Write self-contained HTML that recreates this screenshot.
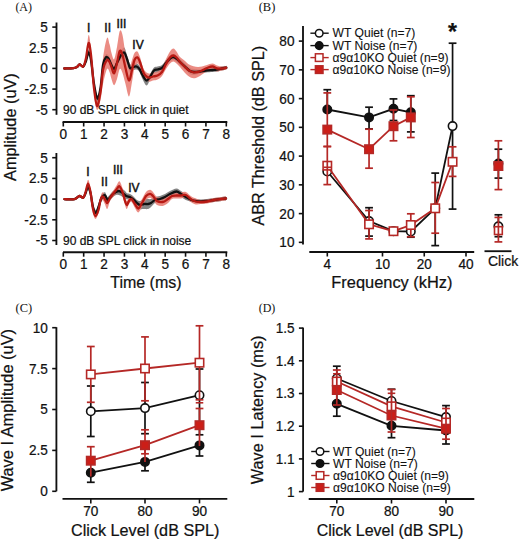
<!DOCTYPE html>
<html><head><meta charset="utf-8"><style>
html,body{margin:0;padding:0;background:#fff;}
svg{display:block;}
</style></head><body>
<svg width="520" height="542" viewBox="0 0 520 542">
<rect width="520" height="542" fill="#fff"/>
<text x="15.40" y="10.60" font-size="12.5" text-anchor="start" fill="#111"  font-family="Liberation Serif, serif" textLength="16.6" lengthAdjust="spacingAndGlyphs">(A)</text>
<line x1="56.50" y1="22.50" x2="56.50" y2="114.80" stroke="#111" stroke-width="1.85"/>
<line x1="52.30" y1="27.10" x2="56.50" y2="27.10" stroke="#111" stroke-width="1.6"/>
<text transform="translate(47.90,32.00) scale(1,1.07)" font-size="13.6" text-anchor="end" fill="#111" stroke="#111" stroke-width="0.22" font-family="Liberation Sans, sans-serif" >5</text>
<line x1="52.30" y1="47.80" x2="56.50" y2="47.80" stroke="#111" stroke-width="1.6"/>
<text transform="translate(47.90,52.70) scale(1,1.07)" font-size="13.6" text-anchor="end" fill="#111" stroke="#111" stroke-width="0.22" font-family="Liberation Sans, sans-serif" >2.5</text>
<line x1="52.30" y1="68.40" x2="56.50" y2="68.40" stroke="#111" stroke-width="1.6"/>
<text transform="translate(47.90,73.30) scale(1,1.07)" font-size="13.6" text-anchor="end" fill="#111" stroke="#111" stroke-width="0.22" font-family="Liberation Sans, sans-serif" >0</text>
<line x1="52.30" y1="89.10" x2="56.50" y2="89.10" stroke="#111" stroke-width="1.6"/>
<text transform="translate(47.90,94.00) scale(1,1.07)" font-size="13.6" text-anchor="end" fill="#111" stroke="#111" stroke-width="0.22" font-family="Liberation Sans, sans-serif" >-2.5</text>
<line x1="52.30" y1="109.70" x2="56.50" y2="109.70" stroke="#111" stroke-width="1.6"/>
<text transform="translate(47.90,114.60) scale(1,1.07)" font-size="13.6" text-anchor="end" fill="#111" stroke="#111" stroke-width="0.22" font-family="Liberation Sans, sans-serif" >-5</text>
<line x1="62.60" y1="122.00" x2="227.30" y2="122.00" stroke="#111" stroke-width="1.85"/>
<line x1="63.30" y1="122.00" x2="63.30" y2="126.50" stroke="#111" stroke-width="1.6"/>
<text transform="translate(63.30,138.90) scale(1,1.07)" font-size="13.6" text-anchor="middle" fill="#111" stroke="#111" stroke-width="0.22" font-family="Liberation Sans, sans-serif" >0</text>
<line x1="83.67" y1="122.00" x2="83.67" y2="126.50" stroke="#111" stroke-width="1.6"/>
<text transform="translate(83.67,138.90) scale(1,1.07)" font-size="13.6" text-anchor="middle" fill="#111" stroke="#111" stroke-width="0.22" font-family="Liberation Sans, sans-serif" >1</text>
<line x1="104.05" y1="122.00" x2="104.05" y2="126.50" stroke="#111" stroke-width="1.6"/>
<text transform="translate(104.05,138.90) scale(1,1.07)" font-size="13.6" text-anchor="middle" fill="#111" stroke="#111" stroke-width="0.22" font-family="Liberation Sans, sans-serif" >2</text>
<line x1="124.42" y1="122.00" x2="124.42" y2="126.50" stroke="#111" stroke-width="1.6"/>
<text transform="translate(124.42,138.90) scale(1,1.07)" font-size="13.6" text-anchor="middle" fill="#111" stroke="#111" stroke-width="0.22" font-family="Liberation Sans, sans-serif" >3</text>
<line x1="144.80" y1="122.00" x2="144.80" y2="126.50" stroke="#111" stroke-width="1.6"/>
<text transform="translate(144.80,138.90) scale(1,1.07)" font-size="13.6" text-anchor="middle" fill="#111" stroke="#111" stroke-width="0.22" font-family="Liberation Sans, sans-serif" >4</text>
<line x1="165.18" y1="122.00" x2="165.18" y2="126.50" stroke="#111" stroke-width="1.6"/>
<text transform="translate(165.18,138.90) scale(1,1.07)" font-size="13.6" text-anchor="middle" fill="#111" stroke="#111" stroke-width="0.22" font-family="Liberation Sans, sans-serif" >5</text>
<line x1="185.55" y1="122.00" x2="185.55" y2="126.50" stroke="#111" stroke-width="1.6"/>
<text transform="translate(185.55,138.90) scale(1,1.07)" font-size="13.6" text-anchor="middle" fill="#111" stroke="#111" stroke-width="0.22" font-family="Liberation Sans, sans-serif" >6</text>
<line x1="205.93" y1="122.00" x2="205.93" y2="126.50" stroke="#111" stroke-width="1.6"/>
<text transform="translate(205.93,138.90) scale(1,1.07)" font-size="13.6" text-anchor="middle" fill="#111" stroke="#111" stroke-width="0.22" font-family="Liberation Sans, sans-serif" >7</text>
<line x1="226.30" y1="122.00" x2="226.30" y2="126.50" stroke="#111" stroke-width="1.6"/>
<text transform="translate(226.30,138.90) scale(1,1.07)" font-size="13.6" text-anchor="middle" fill="#111" stroke="#111" stroke-width="0.22" font-family="Liberation Sans, sans-serif" >8</text>
<line x1="56.40" y1="153.00" x2="56.40" y2="245.00" stroke="#111" stroke-width="1.85"/>
<line x1="52.20" y1="157.70" x2="56.40" y2="157.70" stroke="#111" stroke-width="1.6"/>
<text transform="translate(47.80,162.60) scale(1,1.07)" font-size="13.6" text-anchor="end" fill="#111" stroke="#111" stroke-width="0.22" font-family="Liberation Sans, sans-serif" >5</text>
<line x1="52.20" y1="178.40" x2="56.40" y2="178.40" stroke="#111" stroke-width="1.6"/>
<text transform="translate(47.80,183.30) scale(1,1.07)" font-size="13.6" text-anchor="end" fill="#111" stroke="#111" stroke-width="0.22" font-family="Liberation Sans, sans-serif" >2.5</text>
<line x1="52.20" y1="199.10" x2="56.40" y2="199.10" stroke="#111" stroke-width="1.6"/>
<text transform="translate(47.80,204.00) scale(1,1.07)" font-size="13.6" text-anchor="end" fill="#111" stroke="#111" stroke-width="0.22" font-family="Liberation Sans, sans-serif" >0</text>
<line x1="52.20" y1="219.80" x2="56.40" y2="219.80" stroke="#111" stroke-width="1.6"/>
<text transform="translate(47.80,224.70) scale(1,1.07)" font-size="13.6" text-anchor="end" fill="#111" stroke="#111" stroke-width="0.22" font-family="Liberation Sans, sans-serif" >-2.5</text>
<line x1="52.20" y1="240.50" x2="56.40" y2="240.50" stroke="#111" stroke-width="1.6"/>
<text transform="translate(47.80,245.40) scale(1,1.07)" font-size="13.6" text-anchor="end" fill="#111" stroke="#111" stroke-width="0.22" font-family="Liberation Sans, sans-serif" >-5</text>
<line x1="63.00" y1="252.20" x2="227.30" y2="252.20" stroke="#111" stroke-width="1.85"/>
<line x1="63.30" y1="252.20" x2="63.30" y2="256.70" stroke="#111" stroke-width="1.6"/>
<text transform="translate(63.30,269.10) scale(1,1.07)" font-size="13.6" text-anchor="middle" fill="#111" stroke="#111" stroke-width="0.22" font-family="Liberation Sans, sans-serif" >0</text>
<line x1="83.67" y1="252.20" x2="83.67" y2="256.70" stroke="#111" stroke-width="1.6"/>
<text transform="translate(83.67,269.10) scale(1,1.07)" font-size="13.6" text-anchor="middle" fill="#111" stroke="#111" stroke-width="0.22" font-family="Liberation Sans, sans-serif" >1</text>
<line x1="104.05" y1="252.20" x2="104.05" y2="256.70" stroke="#111" stroke-width="1.6"/>
<text transform="translate(104.05,269.10) scale(1,1.07)" font-size="13.6" text-anchor="middle" fill="#111" stroke="#111" stroke-width="0.22" font-family="Liberation Sans, sans-serif" >2</text>
<line x1="124.42" y1="252.20" x2="124.42" y2="256.70" stroke="#111" stroke-width="1.6"/>
<text transform="translate(124.42,269.10) scale(1,1.07)" font-size="13.6" text-anchor="middle" fill="#111" stroke="#111" stroke-width="0.22" font-family="Liberation Sans, sans-serif" >3</text>
<line x1="144.80" y1="252.20" x2="144.80" y2="256.70" stroke="#111" stroke-width="1.6"/>
<text transform="translate(144.80,269.10) scale(1,1.07)" font-size="13.6" text-anchor="middle" fill="#111" stroke="#111" stroke-width="0.22" font-family="Liberation Sans, sans-serif" >4</text>
<line x1="165.18" y1="252.20" x2="165.18" y2="256.70" stroke="#111" stroke-width="1.6"/>
<text transform="translate(165.18,269.10) scale(1,1.07)" font-size="13.6" text-anchor="middle" fill="#111" stroke="#111" stroke-width="0.22" font-family="Liberation Sans, sans-serif" >5</text>
<line x1="185.55" y1="252.20" x2="185.55" y2="256.70" stroke="#111" stroke-width="1.6"/>
<text transform="translate(185.55,269.10) scale(1,1.07)" font-size="13.6" text-anchor="middle" fill="#111" stroke="#111" stroke-width="0.22" font-family="Liberation Sans, sans-serif" >6</text>
<line x1="205.93" y1="252.20" x2="205.93" y2="256.70" stroke="#111" stroke-width="1.6"/>
<text transform="translate(205.93,269.10) scale(1,1.07)" font-size="13.6" text-anchor="middle" fill="#111" stroke="#111" stroke-width="0.22" font-family="Liberation Sans, sans-serif" >7</text>
<line x1="226.30" y1="252.20" x2="226.30" y2="256.70" stroke="#111" stroke-width="1.6"/>
<text transform="translate(226.30,269.10) scale(1,1.07)" font-size="13.6" text-anchor="middle" fill="#111" stroke="#111" stroke-width="0.22" font-family="Liberation Sans, sans-serif" >8</text>
<path d="M64.20,67.50 C65.72,67.45 71.17,67.45 73.30,67.20 C75.43,66.95 75.95,66.62 77.00,66.00 C78.05,65.38 78.55,63.58 79.60,63.50 C80.65,63.42 82.23,66.25 83.30,65.50 C84.37,64.75 85.12,61.68 86.00,59.00 C86.88,56.32 87.77,49.73 88.60,49.40 C89.43,49.07 90.10,51.73 91.00,57.00 C91.90,62.27 92.93,74.58 94.00,81.00 C95.07,87.42 96.32,94.83 97.40,95.50 C98.48,96.17 99.57,90.58 100.50,85.00 C101.43,79.42 102.12,67.08 103.00,62.00 C103.88,56.92 104.88,55.58 105.80,54.50 C106.72,53.42 107.63,54.42 108.50,55.50 C109.37,56.58 110.07,59.25 111.00,61.00 C111.93,62.75 113.10,66.17 114.10,66.00 C115.10,65.83 115.93,62.33 117.00,60.00 C118.07,57.67 119.30,54.08 120.50,52.00 C121.70,49.92 123.12,47.00 124.20,47.50 C125.28,48.00 126.03,52.25 127.00,55.00 C127.97,57.75 129.00,62.50 130.00,64.00 C131.00,65.50 131.92,64.08 133.00,64.00 C134.08,63.92 135.42,63.17 136.50,63.50 C137.58,63.83 138.50,64.58 139.50,66.00 C140.50,67.42 141.33,70.08 142.50,72.00 C143.67,73.92 145.25,77.17 146.50,77.50 C147.75,77.83 148.75,75.67 150.00,74.00 C151.25,72.33 152.75,68.75 154.00,67.50 C155.25,66.25 156.17,66.92 157.50,66.50 C158.83,66.08 160.58,66.08 162.00,65.00 C163.42,63.92 164.67,61.58 166.00,60.00 C167.33,58.42 168.77,56.50 170.00,55.50 C171.23,54.50 172.23,53.92 173.40,54.00 C174.57,54.08 175.73,55.00 177.00,56.00 C178.27,57.00 179.50,58.58 181.00,60.00 C182.50,61.42 184.50,63.17 186.00,64.50 C187.50,65.83 188.67,67.25 190.00,68.00 C191.33,68.75 192.33,68.75 194.00,69.00 C195.67,69.25 198.00,69.58 200.00,69.50 C202.00,69.42 203.92,68.75 206.00,68.50 C208.08,68.25 210.67,68.17 212.50,68.00 C214.33,67.83 215.42,67.75 217.00,67.50 C218.58,67.25 220.45,66.80 222.00,66.50 C223.55,66.20 225.58,65.83 226.30,65.70 L226.30,69.70 C225.58,69.83 223.55,70.20 222.00,70.50 C220.45,70.80 218.58,71.25 217.00,71.50 C215.42,71.75 214.33,71.83 212.50,72.00 C210.67,72.17 208.08,72.25 206.00,72.50 C203.92,72.75 202.00,73.08 200.00,73.50 C198.00,73.92 195.67,74.92 194.00,75.00 C192.33,75.08 191.33,74.75 190.00,74.00 C188.67,73.25 187.50,71.83 186.00,70.50 C184.50,69.17 182.50,67.42 181.00,66.00 C179.50,64.58 178.27,63.00 177.00,62.00 C175.73,61.00 174.57,60.08 173.40,60.00 C172.23,59.92 171.23,60.50 170.00,61.50 C168.77,62.50 167.33,64.42 166.00,66.00 C164.67,67.58 163.42,69.92 162.00,71.00 C160.58,72.08 158.83,72.08 157.50,72.50 C156.17,72.92 155.25,72.25 154.00,73.50 C152.75,74.75 151.25,78.00 150.00,80.00 C148.75,82.00 147.75,85.67 146.50,85.50 C145.25,85.33 143.67,81.25 142.50,79.00 C141.33,76.75 140.50,73.58 139.50,72.00 C138.50,70.42 137.58,69.83 136.50,69.50 C135.42,69.17 134.08,69.58 133.00,70.00 C131.92,70.42 131.00,73.17 130.00,72.00 C129.00,70.83 127.97,65.58 127.00,63.00 C126.03,60.42 125.28,57.00 124.20,56.50 C123.12,56.00 121.70,58.42 120.50,60.00 C119.30,61.58 118.07,64.00 117.00,66.00 C115.93,68.00 115.10,71.83 114.10,72.00 C113.10,72.17 111.93,68.75 111.00,67.00 C110.07,65.25 109.37,62.58 108.50,61.50 C107.63,60.42 106.72,59.42 105.80,60.50 C104.88,61.58 103.88,62.92 103.00,68.00 C102.12,73.08 101.43,85.42 100.50,91.00 C99.57,96.58 98.48,102.17 97.40,101.50 C96.32,100.83 95.07,93.42 94.00,87.00 C92.93,80.58 91.90,68.27 91.00,63.00 C90.10,57.73 89.43,55.40 88.60,55.40 C87.77,55.40 86.88,60.98 86.00,63.00 C85.12,65.02 84.37,67.08 83.30,67.50 C82.23,67.92 80.65,65.42 79.60,65.50 C78.55,65.58 78.05,67.38 77.00,68.00 C75.95,68.62 75.43,68.95 73.30,69.20 C71.17,69.45 65.72,69.45 64.20,69.50 Z" fill="#6e6e6e" fill-opacity="0.85" stroke="none"/>
<path d="M64.20,67.50 C65.72,67.45 71.17,67.45 73.30,67.20 C75.43,66.95 75.95,66.62 77.00,66.00 C78.05,65.38 78.55,63.58 79.60,63.50 C80.65,63.42 82.23,66.75 83.30,65.50 C84.37,64.25 85.12,61.08 86.00,56.00 C86.88,50.92 87.77,36.17 88.60,35.00 C89.43,33.83 90.10,41.17 91.00,49.00 C91.90,56.83 93.00,73.33 94.00,82.00 C95.00,90.67 95.92,100.33 97.00,101.00 C98.08,101.67 99.50,93.17 100.50,86.00 C101.50,78.83 101.92,66.00 103.00,58.00 C104.08,50.00 105.92,40.33 107.00,38.00 C108.08,35.67 108.75,41.50 109.50,44.00 C110.25,46.50 110.73,50.47 111.50,53.00 C112.27,55.53 113.18,60.20 114.10,59.20 C115.02,58.20 116.05,51.70 117.00,47.00 C117.95,42.30 118.88,33.00 119.80,31.00 C120.72,29.00 121.55,31.17 122.50,35.00 C123.45,38.83 124.42,48.42 125.50,54.00 C126.58,59.58 127.92,67.50 129.00,68.50 C130.08,69.50 131.08,62.58 132.00,60.00 C132.92,57.42 133.60,54.43 134.50,53.00 C135.40,51.57 136.48,50.73 137.40,51.40 C138.32,52.07 139.15,54.57 140.00,57.00 C140.85,59.43 141.67,63.67 142.50,66.00 C143.33,68.33 143.92,69.73 145.00,71.00 C146.08,72.27 147.67,73.35 149.00,73.60 C150.33,73.85 151.58,72.85 153.00,72.50 C154.42,72.15 156.00,72.25 157.50,71.50 C159.00,70.75 160.58,70.08 162.00,68.00 C163.42,65.92 164.67,61.75 166.00,59.00 C167.33,56.25 168.77,53.25 170.00,51.50 C171.23,49.75 172.32,48.50 173.40,48.50 C174.48,48.50 175.40,50.08 176.50,51.50 C177.60,52.92 178.58,55.42 180.00,57.00 C181.42,58.58 183.50,59.75 185.00,61.00 C186.50,62.25 187.58,63.62 189.00,64.50 C190.42,65.38 192.00,65.88 193.50,66.30 C195.00,66.72 196.58,66.97 198.00,67.00 C199.42,67.03 200.50,66.83 202.00,66.50 C203.50,66.17 205.25,65.50 207.00,65.00 C208.75,64.50 210.83,63.42 212.50,63.50 C214.17,63.58 215.42,65.00 217.00,65.50 C218.58,66.00 220.45,66.47 222.00,66.50 C223.55,66.53 225.58,65.83 226.30,65.70 L226.30,69.70 C225.58,69.83 223.55,70.20 222.00,70.50 C220.45,70.80 218.58,71.67 217.00,71.50 C215.42,71.33 214.17,69.58 212.50,69.50 C210.83,69.42 208.75,70.17 207.00,71.00 C205.25,71.83 203.50,73.50 202.00,74.50 C200.50,75.50 199.42,76.37 198.00,77.00 C196.58,77.63 195.00,78.38 193.50,78.30 C192.00,78.22 190.42,77.38 189.00,76.50 C187.58,75.62 186.50,74.58 185.00,73.00 C183.50,71.42 181.42,68.58 180.00,67.00 C178.58,65.42 177.60,64.42 176.50,63.50 C175.40,62.58 174.48,61.50 173.40,61.50 C172.32,61.50 171.23,62.25 170.00,63.50 C168.77,64.75 167.33,66.92 166.00,69.00 C164.67,71.08 163.42,74.25 162.00,76.00 C160.58,77.75 159.00,78.75 157.50,79.50 C156.00,80.25 154.42,80.15 153.00,80.50 C151.58,80.85 150.33,81.85 149.00,81.60 C147.67,81.35 146.08,80.27 145.00,79.00 C143.92,77.73 143.33,76.00 142.50,74.00 C141.67,72.00 140.85,68.77 140.00,67.00 C139.15,65.23 138.32,63.23 137.40,63.40 C136.48,63.57 135.40,64.90 134.50,68.00 C133.60,71.10 132.92,77.25 132.00,82.00 C131.08,86.75 130.08,96.17 129.00,96.50 C127.92,96.83 126.58,87.92 125.50,84.00 C124.42,80.08 123.45,75.50 122.50,73.00 C121.55,70.50 120.72,68.00 119.80,69.00 C118.88,70.00 117.95,76.30 117.00,79.00 C116.05,81.70 115.02,85.20 114.10,85.20 C113.18,85.20 112.27,81.20 111.50,79.00 C110.73,76.80 110.25,73.67 109.50,72.00 C108.75,70.33 108.08,67.00 107.00,69.00 C105.92,71.00 104.08,78.83 103.00,84.00 C101.92,89.17 101.50,95.67 100.50,100.00 C99.50,104.33 98.08,111.00 97.00,110.00 C95.92,109.00 95.00,102.17 94.00,94.00 C93.00,85.83 91.90,68.67 91.00,61.00 C90.10,53.33 89.43,48.17 88.60,48.00 C87.77,47.83 86.88,56.75 86.00,60.00 C85.12,63.25 84.37,66.58 83.30,67.50 C82.23,68.42 80.65,65.42 79.60,65.50 C78.55,65.58 78.05,67.38 77.00,68.00 C75.95,68.62 75.43,68.95 73.30,69.20 C71.17,69.45 65.72,69.45 64.20,69.50 Z" fill="#e8786e" fill-opacity="0.85" stroke="none"/>
<path d="M64.20,68.50 C65.72,68.45 71.17,68.45 73.30,68.20 C75.43,67.95 75.95,67.62 77.00,67.00 C78.05,66.38 78.55,64.58 79.60,64.50 C80.65,64.42 82.23,67.08 83.30,66.50 C84.37,65.92 85.12,63.35 86.00,61.00 C86.88,58.65 87.77,52.57 88.60,52.40 C89.43,52.23 90.10,54.73 91.00,60.00 C91.90,65.27 92.93,77.58 94.00,84.00 C95.07,90.42 96.32,97.83 97.40,98.50 C98.48,99.17 99.57,93.58 100.50,88.00 C101.43,82.42 102.12,70.08 103.00,65.00 C103.88,59.92 104.88,58.58 105.80,57.50 C106.72,56.42 107.63,57.42 108.50,58.50 C109.37,59.58 110.07,62.25 111.00,64.00 C111.93,65.75 113.10,69.17 114.10,69.00 C115.10,68.83 115.93,65.17 117.00,63.00 C118.07,60.83 119.30,57.75 120.50,56.00 C121.70,54.25 123.12,52.00 124.20,52.50 C125.28,53.00 126.03,56.42 127.00,59.00 C127.97,61.58 129.00,66.67 130.00,68.00 C131.00,69.33 131.92,67.25 133.00,67.00 C134.08,66.75 135.42,66.17 136.50,66.50 C137.58,66.83 138.50,67.58 139.50,69.00 C140.50,70.42 141.33,73.08 142.50,75.00 C143.67,76.92 145.25,80.17 146.50,80.50 C147.75,80.83 148.75,78.67 150.00,77.00 C151.25,75.33 152.75,71.75 154.00,70.50 C155.25,69.25 156.17,69.92 157.50,69.50 C158.83,69.08 160.58,69.08 162.00,68.00 C163.42,66.92 164.67,64.58 166.00,63.00 C167.33,61.42 168.77,59.50 170.00,58.50 C171.23,57.50 172.23,56.92 173.40,57.00 C174.57,57.08 175.73,58.00 177.00,59.00 C178.27,60.00 179.50,61.58 181.00,63.00 C182.50,64.42 184.50,66.17 186.00,67.50 C187.50,68.83 188.67,70.25 190.00,71.00 C191.33,71.75 192.33,71.92 194.00,72.00 C195.67,72.08 198.00,71.75 200.00,71.50 C202.00,71.25 203.92,70.75 206.00,70.50 C208.08,70.25 210.67,70.17 212.50,70.00 C214.33,69.83 215.42,69.75 217.00,69.50 C218.58,69.25 220.45,68.80 222.00,68.50 C223.55,68.20 225.58,67.83 226.30,67.70" fill="none" stroke="#111" stroke-width="2.3" stroke-linejoin="round" stroke-linecap="round"/>
<path d="M64.20,68.50 C65.72,68.45 71.17,68.45 73.30,68.20 C75.43,67.95 75.95,67.62 77.00,67.00 C78.05,66.38 78.55,64.58 79.60,64.50 C80.65,64.42 82.23,67.58 83.30,66.50 C84.37,65.42 85.12,61.92 86.00,58.00 C86.88,54.08 87.77,43.50 88.60,43.00 C89.43,42.50 90.10,47.50 91.00,55.00 C91.90,62.50 93.00,79.50 94.00,88.00 C95.00,96.50 95.92,105.33 97.00,106.00 C98.08,106.67 99.50,98.00 100.50,92.00 C101.50,86.00 101.92,75.33 103.00,70.00 C104.08,64.67 105.92,61.33 107.00,60.00 C108.08,58.67 108.75,60.83 109.50,62.00 C110.25,63.17 110.73,65.13 111.50,67.00 C112.27,68.87 113.18,73.87 114.10,73.20 C115.02,72.53 116.05,66.70 117.00,63.00 C117.95,59.30 118.88,52.33 119.80,51.00 C120.72,49.67 121.55,52.17 122.50,55.00 C123.45,57.83 124.42,63.75 125.50,68.00 C126.58,72.25 127.92,80.17 129.00,80.50 C130.08,80.83 131.08,73.42 132.00,70.00 C132.92,66.58 133.60,62.10 134.50,60.00 C135.40,57.90 136.48,57.07 137.40,57.40 C138.32,57.73 139.15,59.90 140.00,62.00 C140.85,64.10 141.67,67.83 142.50,70.00 C143.33,72.17 143.92,73.73 145.00,75.00 C146.08,76.27 147.67,77.35 149.00,77.60 C150.33,77.85 151.58,76.85 153.00,76.50 C154.42,76.15 156.00,76.25 157.50,75.50 C159.00,74.75 160.58,73.92 162.00,72.00 C163.42,70.08 164.67,66.42 166.00,64.00 C167.33,61.58 168.77,58.92 170.00,57.50 C171.23,56.08 172.32,55.50 173.40,55.50 C174.48,55.50 175.40,56.42 176.50,57.50 C177.60,58.58 178.58,60.42 180.00,62.00 C181.42,63.58 183.50,65.58 185.00,67.00 C186.50,68.42 187.58,69.62 189.00,70.50 C190.42,71.38 192.00,72.05 193.50,72.30 C195.00,72.55 196.58,72.30 198.00,72.00 C199.42,71.70 200.50,71.17 202.00,70.50 C203.50,69.83 205.25,68.67 207.00,68.00 C208.75,67.33 210.83,66.42 212.50,66.50 C214.17,66.58 215.42,68.17 217.00,68.50 C218.58,68.83 220.45,68.63 222.00,68.50 C223.55,68.37 225.58,67.83 226.30,67.70" fill="none" stroke="#b81a14" stroke-width="2.3" stroke-linejoin="round" stroke-linecap="round"/>
<path d="M64.40,198.20 C66.10,198.17 72.10,198.53 74.60,198.00 C77.10,197.47 77.95,195.22 79.40,195.00 C80.85,194.78 82.27,197.37 83.30,196.70 C84.33,196.03 84.82,193.12 85.60,191.00 C86.38,188.88 87.18,184.17 88.00,184.00 C88.82,183.83 89.67,186.67 90.50,190.00 C91.33,193.33 92.12,200.67 93.00,204.00 C93.88,207.33 94.88,210.00 95.80,210.00 C96.72,210.00 97.63,206.33 98.50,204.00 C99.37,201.67 100.25,197.83 101.00,196.00 C101.75,194.17 102.28,193.58 103.00,193.00 C103.72,192.42 104.58,191.83 105.30,192.50 C106.02,193.17 106.52,196.67 107.30,197.00 C108.08,197.33 109.05,195.50 110.00,194.50 C110.95,193.50 112.00,191.92 113.00,191.00 C114.00,190.08 115.05,189.67 116.00,189.00 C116.95,188.33 117.70,187.08 118.70,187.00 C119.70,186.92 120.95,187.83 122.00,188.50 C123.05,189.17 124.17,190.20 125.00,191.00 C125.83,191.80 126.17,192.80 127.00,193.30 C127.83,193.80 129.00,193.55 130.00,194.00 C131.00,194.45 131.83,195.00 133.00,196.00 C134.17,197.00 135.83,199.17 137.00,200.00 C138.17,200.83 138.83,201.17 140.00,201.00 C141.17,200.83 142.67,199.33 144.00,199.00 C145.33,198.67 146.83,199.00 148.00,199.00 C149.17,199.00 149.83,199.33 151.00,199.00 C152.17,198.67 153.50,197.50 155.00,197.00 C156.50,196.50 158.33,196.50 160.00,196.00 C161.67,195.50 163.33,194.83 165.00,194.00 C166.67,193.17 168.08,191.92 170.00,191.00 C171.92,190.08 174.67,188.50 176.50,188.50 C178.33,188.50 179.45,190.08 181.00,191.00 C182.55,191.92 184.05,192.83 185.80,194.00 C187.55,195.17 189.80,197.17 191.50,198.00 C193.20,198.83 194.45,198.75 196.00,199.00 C197.55,199.25 198.97,199.50 200.80,199.50 C202.63,199.50 204.80,199.25 207.00,199.00 C209.20,198.75 211.83,198.30 214.00,198.00 C216.17,197.70 218.00,197.45 220.00,197.20 C222.00,196.95 225.00,196.62 226.00,196.50 L226.00,200.50 C225.00,200.62 222.00,200.95 220.00,201.20 C218.00,201.45 216.17,201.70 214.00,202.00 C211.83,202.30 209.20,202.75 207.00,203.00 C204.80,203.25 202.63,203.50 200.80,203.50 C198.97,203.50 197.55,203.25 196.00,203.00 C194.45,202.75 193.20,202.50 191.50,202.00 C189.80,201.50 187.55,200.83 185.80,200.00 C184.05,199.17 182.55,197.92 181.00,197.00 C179.45,196.08 178.33,194.50 176.50,194.50 C174.67,194.50 171.92,196.08 170.00,197.00 C168.08,197.92 166.67,199.17 165.00,200.00 C163.33,200.83 161.67,201.50 160.00,202.00 C158.33,202.50 156.50,202.17 155.00,203.00 C153.50,203.83 152.17,206.00 151.00,207.00 C149.83,208.00 149.17,208.67 148.00,209.00 C146.83,209.33 145.33,209.00 144.00,209.00 C142.67,209.00 141.17,209.50 140.00,209.00 C138.83,208.50 138.17,207.17 137.00,206.00 C135.83,204.83 134.17,203.00 133.00,202.00 C131.83,201.00 131.00,200.45 130.00,200.00 C129.00,199.55 127.83,199.47 127.00,199.30 C126.17,199.13 125.83,199.47 125.00,199.00 C124.17,198.53 123.05,197.17 122.00,196.50 C120.95,195.83 119.70,195.25 118.70,195.00 C117.70,194.75 116.95,194.67 116.00,195.00 C115.05,195.33 114.00,196.08 113.00,197.00 C112.00,197.92 110.95,199.50 110.00,200.50 C109.05,201.50 108.08,203.33 107.30,203.00 C106.52,202.67 106.02,199.17 105.30,198.50 C104.58,197.83 103.72,198.42 103.00,199.00 C102.28,199.58 101.75,200.17 101.00,202.00 C100.25,203.83 99.37,207.67 98.50,210.00 C97.63,212.33 96.72,216.00 95.80,216.00 C94.88,216.00 93.88,213.33 93.00,210.00 C92.12,206.67 91.33,199.33 90.50,196.00 C89.67,192.67 88.82,190.17 88.00,190.00 C87.18,189.83 86.38,193.55 85.60,195.00 C84.82,196.45 84.33,198.37 83.30,198.70 C82.27,199.03 80.85,196.78 79.40,197.00 C77.95,197.22 77.10,199.47 74.60,200.00 C72.10,200.53 66.10,200.17 64.40,200.20 Z" fill="#6e6e6e" fill-opacity="0.85" stroke="none"/>
<path d="M64.40,198.20 C66.10,198.17 72.10,198.53 74.60,198.00 C77.10,197.47 77.95,195.22 79.40,195.00 C80.85,194.78 82.27,197.53 83.30,196.70 C84.33,195.87 84.82,192.83 85.60,190.00 C86.38,187.17 87.18,180.03 88.00,179.70 C88.82,179.37 89.67,183.78 90.50,188.00 C91.33,192.22 92.17,200.83 93.00,205.00 C93.83,209.17 94.58,212.67 95.50,213.00 C96.42,213.33 97.67,209.67 98.50,207.00 C99.33,204.33 99.82,199.45 100.50,197.00 C101.18,194.55 101.88,192.63 102.60,192.30 C103.32,191.97 104.02,193.88 104.80,195.00 C105.58,196.12 106.43,199.00 107.30,199.00 C108.17,199.00 109.05,196.33 110.00,195.00 C110.95,193.67 111.92,192.58 113.00,191.00 C114.08,189.42 115.43,187.13 116.50,185.50 C117.57,183.87 118.40,180.78 119.40,181.20 C120.40,181.62 121.57,185.37 122.50,188.00 C123.43,190.63 124.28,194.83 125.00,197.00 C125.72,199.17 126.13,200.83 126.80,201.00 C127.47,201.17 128.22,198.83 129.00,198.00 C129.78,197.17 130.50,195.67 131.50,196.00 C132.50,196.33 133.87,198.58 135.00,200.00 C136.13,201.42 137.13,204.67 138.30,204.50 C139.47,204.33 140.72,201.08 142.00,199.00 C143.28,196.92 144.67,193.53 146.00,192.00 C147.33,190.47 148.83,189.80 150.00,189.80 C151.17,189.80 151.83,190.80 153.00,192.00 C154.17,193.20 155.38,196.00 157.00,197.00 C158.62,198.00 160.87,198.33 162.70,198.00 C164.53,197.67 166.45,195.83 168.00,195.00 C169.55,194.17 170.58,193.42 172.00,193.00 C173.42,192.58 175.00,192.58 176.50,192.50 C178.00,192.42 179.45,192.58 181.00,192.50 C182.55,192.42 184.05,191.32 185.80,192.00 C187.55,192.68 189.80,195.52 191.50,196.60 C193.20,197.68 194.45,197.93 196.00,198.50 C197.55,199.07 198.97,199.83 200.80,200.00 C202.63,200.17 204.80,199.83 207.00,199.50 C209.20,199.17 211.83,198.38 214.00,198.00 C216.17,197.62 218.00,197.45 220.00,197.20 C222.00,196.95 225.00,196.62 226.00,196.50 L226.00,200.50 C225.00,200.62 222.00,200.95 220.00,201.20 C218.00,201.45 216.17,201.62 214.00,202.00 C211.83,202.38 209.20,203.17 207.00,203.50 C204.80,203.83 202.63,203.83 200.80,204.00 C198.97,204.17 197.55,204.73 196.00,204.50 C194.45,204.27 193.20,203.68 191.50,202.60 C189.80,201.52 187.55,198.68 185.80,198.00 C184.05,197.32 182.55,198.42 181.00,198.50 C179.45,198.58 178.00,198.42 176.50,198.50 C175.00,198.58 173.42,198.25 172.00,199.00 C170.58,199.75 169.55,201.83 168.00,203.00 C166.45,204.17 164.53,205.67 162.70,206.00 C160.87,206.33 158.62,206.00 157.00,205.00 C155.38,204.00 154.17,201.20 153.00,200.00 C151.83,198.80 151.17,197.80 150.00,197.80 C148.83,197.80 147.33,198.47 146.00,200.00 C144.67,201.53 143.28,204.92 142.00,207.00 C140.72,209.08 139.47,212.33 138.30,212.50 C137.13,212.67 136.13,209.75 135.00,208.00 C133.87,206.25 132.50,202.67 131.50,202.00 C130.50,201.33 129.78,202.83 129.00,204.00 C128.22,205.17 127.47,208.83 126.80,209.00 C126.13,209.17 125.72,207.17 125.00,205.00 C124.28,202.83 123.43,198.47 122.50,196.00 C121.57,193.53 120.40,190.62 119.40,190.20 C118.40,189.78 117.57,192.37 116.50,193.50 C115.43,194.63 114.08,195.75 113.00,197.00 C111.92,198.25 110.95,199.00 110.00,201.00 C109.05,203.00 108.17,208.50 107.30,209.00 C106.43,209.50 105.58,205.45 104.80,204.00 C104.02,202.55 103.32,200.47 102.60,200.30 C101.88,200.13 101.18,200.88 100.50,203.00 C99.82,205.12 99.33,210.33 98.50,213.00 C97.67,215.67 96.42,219.00 95.50,219.00 C94.58,219.00 93.83,216.83 93.00,213.00 C92.17,209.17 91.33,200.22 90.50,196.00 C89.67,191.78 88.82,188.03 88.00,187.70 C87.18,187.37 86.38,192.17 85.60,194.00 C84.82,195.83 84.33,198.20 83.30,198.70 C82.27,199.20 80.85,196.78 79.40,197.00 C77.95,197.22 77.10,199.47 74.60,200.00 C72.10,200.53 66.10,200.17 64.40,200.20 Z" fill="#e8786e" fill-opacity="0.85" stroke="none"/>
<path d="M64.40,199.20 C66.10,199.17 72.10,199.53 74.60,199.00 C77.10,198.47 77.95,196.22 79.40,196.00 C80.85,195.78 82.27,198.20 83.30,197.70 C84.33,197.20 84.82,194.78 85.60,193.00 C86.38,191.22 87.18,187.00 88.00,187.00 C88.82,187.00 89.67,189.67 90.50,193.00 C91.33,196.33 92.12,203.67 93.00,207.00 C93.88,210.33 94.88,213.00 95.80,213.00 C96.72,213.00 97.63,209.33 98.50,207.00 C99.37,204.67 100.25,200.83 101.00,199.00 C101.75,197.17 102.28,196.58 103.00,196.00 C103.72,195.42 104.58,194.83 105.30,195.50 C106.02,196.17 106.52,199.67 107.30,200.00 C108.08,200.33 109.05,198.50 110.00,197.50 C110.95,196.50 112.00,194.92 113.00,194.00 C114.00,193.08 115.05,192.50 116.00,192.00 C116.95,191.50 117.70,190.92 118.70,191.00 C119.70,191.08 120.95,191.83 122.00,192.50 C123.05,193.17 124.17,194.37 125.00,195.00 C125.83,195.63 126.17,195.97 127.00,196.30 C127.83,196.63 129.00,196.55 130.00,197.00 C131.00,197.45 131.83,198.00 133.00,199.00 C134.17,200.00 135.83,202.00 137.00,203.00 C138.17,204.00 138.83,204.83 140.00,205.00 C141.17,205.17 142.67,204.17 144.00,204.00 C145.33,203.83 146.83,204.17 148.00,204.00 C149.17,203.83 149.83,203.67 151.00,203.00 C152.17,202.33 153.50,200.67 155.00,200.00 C156.50,199.33 158.33,199.50 160.00,199.00 C161.67,198.50 163.33,197.83 165.00,197.00 C166.67,196.17 168.08,194.92 170.00,194.00 C171.92,193.08 174.67,191.50 176.50,191.50 C178.33,191.50 179.45,193.08 181.00,194.00 C182.55,194.92 184.05,196.00 185.80,197.00 C187.55,198.00 189.80,199.33 191.50,200.00 C193.20,200.67 194.45,200.75 196.00,201.00 C197.55,201.25 198.97,201.50 200.80,201.50 C202.63,201.50 204.80,201.25 207.00,201.00 C209.20,200.75 211.83,200.30 214.00,200.00 C216.17,199.70 218.00,199.45 220.00,199.20 C222.00,198.95 225.00,198.62 226.00,198.50" fill="none" stroke="#111" stroke-width="2.3" stroke-linejoin="round" stroke-linecap="round"/>
<path d="M64.40,199.20 C66.10,199.17 72.10,199.53 74.60,199.00 C77.10,198.47 77.95,196.22 79.40,196.00 C80.85,195.78 82.27,198.37 83.30,197.70 C84.33,197.03 84.82,194.33 85.60,192.00 C86.38,189.67 87.18,183.70 88.00,183.70 C88.82,183.70 89.67,187.78 90.50,192.00 C91.33,196.22 92.17,205.00 93.00,209.00 C93.83,213.00 94.58,215.83 95.50,216.00 C96.42,216.17 97.67,212.67 98.50,210.00 C99.33,207.33 99.82,202.28 100.50,200.00 C101.18,197.72 101.88,196.47 102.60,196.30 C103.32,196.13 104.02,197.88 104.80,199.00 C105.58,200.12 106.43,203.17 107.30,203.00 C108.17,202.83 109.05,199.50 110.00,198.00 C110.95,196.50 111.92,195.42 113.00,194.00 C114.08,192.58 115.43,190.80 116.50,189.50 C117.57,188.20 118.40,185.78 119.40,186.20 C120.40,186.62 121.57,189.53 122.50,192.00 C123.43,194.47 124.28,198.83 125.00,201.00 C125.72,203.17 126.13,205.00 126.80,205.00 C127.47,205.00 128.22,202.00 129.00,201.00 C129.78,200.00 130.50,198.50 131.50,199.00 C132.50,199.50 133.87,202.42 135.00,204.00 C136.13,205.58 137.13,208.67 138.30,208.50 C139.47,208.33 140.72,205.08 142.00,203.00 C143.28,200.92 144.67,197.53 146.00,196.00 C147.33,194.47 148.83,193.80 150.00,193.80 C151.17,193.80 151.83,194.80 153.00,196.00 C154.17,197.20 155.38,200.00 157.00,201.00 C158.62,202.00 160.87,202.33 162.70,202.00 C164.53,201.67 166.45,200.00 168.00,199.00 C169.55,198.00 170.58,196.58 172.00,196.00 C173.42,195.42 175.00,195.58 176.50,195.50 C178.00,195.42 179.45,195.58 181.00,195.50 C182.55,195.42 184.05,194.32 185.80,195.00 C187.55,195.68 189.80,198.52 191.50,199.60 C193.20,200.68 194.45,201.10 196.00,201.50 C197.55,201.90 198.97,202.00 200.80,202.00 C202.63,202.00 204.80,201.83 207.00,201.50 C209.20,201.17 211.83,200.38 214.00,200.00 C216.17,199.62 218.00,199.45 220.00,199.20 C222.00,198.95 225.00,198.62 226.00,198.50" fill="none" stroke="#b81a14" stroke-width="2.3" stroke-linejoin="round" stroke-linecap="round"/>
<text x="88.60" y="32.30" font-size="12" text-anchor="middle" fill="#111" stroke="#111" stroke-width="0.45" font-family="Liberation Sans, sans-serif" >I</text>
<text x="107.70" y="32.30" font-size="12" text-anchor="middle" fill="#111" stroke="#111" stroke-width="0.45" font-family="Liberation Sans, sans-serif" >II</text>
<text x="121.40" y="27.50" font-size="12" text-anchor="middle" fill="#111" stroke="#111" stroke-width="0.45" font-family="Liberation Sans, sans-serif" >III</text>
<text x="138.00" y="48.80" font-size="12" text-anchor="middle" fill="#111" stroke="#111" stroke-width="0.45" font-family="Liberation Sans, sans-serif" >IV</text>
<text x="88.00" y="176.20" font-size="12" text-anchor="middle" fill="#111" stroke="#111" stroke-width="0.45" font-family="Liberation Sans, sans-serif" >I</text>
<text x="104.40" y="185.80" font-size="12" text-anchor="middle" fill="#111" stroke="#111" stroke-width="0.45" font-family="Liberation Sans, sans-serif" >II</text>
<text x="117.90" y="174.20" font-size="12" text-anchor="middle" fill="#111" stroke="#111" stroke-width="0.45" font-family="Liberation Sans, sans-serif" >III</text>
<text x="133.80" y="192.40" font-size="12" text-anchor="middle" fill="#111" stroke="#111" stroke-width="0.45" font-family="Liberation Sans, sans-serif" >IV</text>
<text x="63.00" y="113.70" font-size="12" text-anchor="start" fill="#111" stroke="#111" stroke-width="0.22" font-family="Liberation Sans, sans-serif" >90 dB SPL click in quiet</text>
<text x="63.00" y="244.50" font-size="12" text-anchor="start" fill="#111" stroke="#111" stroke-width="0.22" font-family="Liberation Sans, sans-serif" >90 dB SPL click in noise</text>
<text x="145.90" y="287.80" font-size="16" text-anchor="middle" fill="#111" stroke="#111" stroke-width="0.22" font-family="Liberation Sans, sans-serif" >Time (ms)</text>
<text transform="translate(15.8,127.1) rotate(-90)" font-size="16.3" text-anchor="middle" fill="#111" stroke="#111" stroke-width="0.22" font-family="Liberation Sans, sans-serif">Amplitude (uV)</text>
<text x="258.70" y="10.60" font-size="12.5" text-anchor="start" fill="#111"  font-family="Liberation Serif, serif" textLength="16.6" lengthAdjust="spacingAndGlyphs">(B)</text>
<line x1="303.00" y1="26.00" x2="303.00" y2="244.40" stroke="#111" stroke-width="1.85"/>
<line x1="298.80" y1="242.35" x2="303.00" y2="242.35" stroke="#111" stroke-width="1.6"/>
<text transform="translate(294.50,247.25) scale(1,1.07)" font-size="13.6" text-anchor="end" fill="#111" stroke="#111" stroke-width="0.22" font-family="Liberation Sans, sans-serif" >10</text>
<line x1="298.80" y1="213.60" x2="303.00" y2="213.60" stroke="#111" stroke-width="1.6"/>
<text transform="translate(294.50,218.50) scale(1,1.07)" font-size="13.6" text-anchor="end" fill="#111" stroke="#111" stroke-width="0.22" font-family="Liberation Sans, sans-serif" >20</text>
<line x1="298.80" y1="184.85" x2="303.00" y2="184.85" stroke="#111" stroke-width="1.6"/>
<text transform="translate(294.50,189.75) scale(1,1.07)" font-size="13.6" text-anchor="end" fill="#111" stroke="#111" stroke-width="0.22" font-family="Liberation Sans, sans-serif" >30</text>
<line x1="298.80" y1="156.10" x2="303.00" y2="156.10" stroke="#111" stroke-width="1.6"/>
<text transform="translate(294.50,161.00) scale(1,1.07)" font-size="13.6" text-anchor="end" fill="#111" stroke="#111" stroke-width="0.22" font-family="Liberation Sans, sans-serif" >40</text>
<line x1="298.80" y1="127.35" x2="303.00" y2="127.35" stroke="#111" stroke-width="1.6"/>
<text transform="translate(294.50,132.25) scale(1,1.07)" font-size="13.6" text-anchor="end" fill="#111" stroke="#111" stroke-width="0.22" font-family="Liberation Sans, sans-serif" >50</text>
<line x1="298.80" y1="98.60" x2="303.00" y2="98.60" stroke="#111" stroke-width="1.6"/>
<text transform="translate(294.50,103.50) scale(1,1.07)" font-size="13.6" text-anchor="end" fill="#111" stroke="#111" stroke-width="0.22" font-family="Liberation Sans, sans-serif" >60</text>
<line x1="298.80" y1="69.85" x2="303.00" y2="69.85" stroke="#111" stroke-width="1.6"/>
<text transform="translate(294.50,74.75) scale(1,1.07)" font-size="13.6" text-anchor="end" fill="#111" stroke="#111" stroke-width="0.22" font-family="Liberation Sans, sans-serif" >70</text>
<line x1="298.80" y1="41.10" x2="303.00" y2="41.10" stroke="#111" stroke-width="1.6"/>
<text transform="translate(294.50,46.00) scale(1,1.07)" font-size="13.6" text-anchor="end" fill="#111" stroke="#111" stroke-width="0.22" font-family="Liberation Sans, sans-serif" >80</text>
<line x1="309.30" y1="252.00" x2="474.20" y2="252.00" stroke="#111" stroke-width="1.85"/>
<line x1="327.30" y1="252.00" x2="327.30" y2="256.50" stroke="#111" stroke-width="1.6"/>
<text transform="translate(327.30,269.40) scale(1,1.07)" font-size="13.6" text-anchor="middle" fill="#111" stroke="#111" stroke-width="0.22" font-family="Liberation Sans, sans-serif" >4</text>
<line x1="382.49" y1="252.00" x2="382.49" y2="256.50" stroke="#111" stroke-width="1.6"/>
<text transform="translate(382.49,269.40) scale(1,1.07)" font-size="13.6" text-anchor="middle" fill="#111" stroke="#111" stroke-width="0.22" font-family="Liberation Sans, sans-serif" >10</text>
<line x1="424.25" y1="252.00" x2="424.25" y2="256.50" stroke="#111" stroke-width="1.6"/>
<text transform="translate(424.25,269.40) scale(1,1.07)" font-size="13.6" text-anchor="middle" fill="#111" stroke="#111" stroke-width="0.22" font-family="Liberation Sans, sans-serif" >20</text>
<line x1="466.00" y1="252.00" x2="466.00" y2="256.50" stroke="#111" stroke-width="1.6"/>
<text transform="translate(466.00,269.40) scale(1,1.07)" font-size="13.6" text-anchor="middle" fill="#111" stroke="#111" stroke-width="0.22" font-family="Liberation Sans, sans-serif" >40</text>
<line x1="484.50" y1="251.20" x2="511.50" y2="251.20" stroke="#111" stroke-width="1.85"/>
<text x="487.90" y="266.20" font-size="14" text-anchor="start" fill="#111" stroke="#111" stroke-width="0.22" font-family="Liberation Sans, sans-serif" >Click</text>
<text x="391.90" y="288.10" font-size="16.4" text-anchor="middle" fill="#111" stroke="#111" stroke-width="0.22" font-family="Liberation Sans, sans-serif" >Frequency (kHz)</text>
<text transform="translate(263.6,135.7) rotate(-90)" font-size="16.2" text-anchor="middle" fill="#111" stroke="#111" stroke-width="0.22" font-family="Liberation Sans, sans-serif">ABR Threshold (dB SPL)</text>
<text x="452.50" y="39.60" font-size="23" text-anchor="middle" fill="#111" stroke="#111" stroke-width="0.22" font-family="Liberation Sans, sans-serif" font-weight="bold">*</text>
<line x1="327.30" y1="89.70" x2="327.30" y2="109.50" stroke="#111" stroke-width="1.7"/>
<line x1="323.40" y1="89.70" x2="331.20" y2="89.70" stroke="#111" stroke-width="1.7"/>
<line x1="323.40" y1="109.50" x2="331.20" y2="109.50" stroke="#111" stroke-width="1.7"/>
<line x1="369.05" y1="107.20" x2="369.05" y2="128.90" stroke="#111" stroke-width="1.7"/>
<line x1="365.15" y1="107.20" x2="372.95" y2="107.20" stroke="#111" stroke-width="1.7"/>
<line x1="365.15" y1="128.90" x2="372.95" y2="128.90" stroke="#111" stroke-width="1.7"/>
<line x1="393.48" y1="98.90" x2="393.48" y2="120.50" stroke="#111" stroke-width="1.7"/>
<line x1="389.58" y1="98.90" x2="397.38" y2="98.90" stroke="#111" stroke-width="1.7"/>
<line x1="389.58" y1="120.50" x2="397.38" y2="120.50" stroke="#111" stroke-width="1.7"/>
<line x1="410.81" y1="95.70" x2="410.81" y2="131.90" stroke="#111" stroke-width="1.7"/>
<line x1="406.91" y1="95.70" x2="414.71" y2="95.70" stroke="#111" stroke-width="1.7"/>
<line x1="406.91" y1="131.90" x2="414.71" y2="131.90" stroke="#111" stroke-width="1.7"/>
<line x1="369.05" y1="207.70" x2="369.05" y2="236.10" stroke="#111" stroke-width="1.7"/>
<line x1="365.15" y1="207.70" x2="372.95" y2="207.70" stroke="#111" stroke-width="1.7"/>
<line x1="365.15" y1="236.10" x2="372.95" y2="236.10" stroke="#111" stroke-width="1.7"/>
<line x1="410.81" y1="231.50" x2="410.81" y2="237.20" stroke="#111" stroke-width="1.7"/>
<line x1="406.91" y1="231.50" x2="414.71" y2="231.50" stroke="#111" stroke-width="1.7"/>
<line x1="406.91" y1="237.20" x2="414.71" y2="237.20" stroke="#111" stroke-width="1.7"/>
<line x1="435.23" y1="173.10" x2="435.23" y2="245.60" stroke="#111" stroke-width="1.7"/>
<line x1="431.33" y1="173.10" x2="439.13" y2="173.10" stroke="#111" stroke-width="1.7"/>
<line x1="431.33" y1="245.60" x2="439.13" y2="245.60" stroke="#111" stroke-width="1.7"/>
<line x1="452.56" y1="43.20" x2="452.56" y2="209.10" stroke="#111" stroke-width="1.7"/>
<line x1="448.66" y1="43.20" x2="456.46" y2="43.20" stroke="#111" stroke-width="1.7"/>
<line x1="448.66" y1="209.10" x2="456.46" y2="209.10" stroke="#111" stroke-width="1.7"/>
<polyline points="327.30,171.50 369.05,221.10 393.48,231.20 410.81,231.50 435.23,208.30 452.56,126.10" fill="none" stroke="#111" stroke-width="1.8"/>
<polyline points="327.30,109.50 369.05,117.40 393.48,108.80 410.81,112.30" fill="none" stroke="#111" stroke-width="1.8"/>
<circle cx="327.30" cy="171.50" r="4.2" fill="#fff" stroke="#111" stroke-width="1.6"/>
<circle cx="369.05" cy="221.10" r="4.2" fill="#fff" stroke="#111" stroke-width="1.6"/>
<circle cx="393.48" cy="231.20" r="4.2" fill="#fff" stroke="#111" stroke-width="1.6"/>
<circle cx="410.81" cy="231.50" r="4.2" fill="#fff" stroke="#111" stroke-width="1.6"/>
<circle cx="435.23" cy="208.30" r="4.2" fill="#fff" stroke="#111" stroke-width="1.6"/>
<circle cx="452.56" cy="126.10" r="4.2" fill="#fff" stroke="#111" stroke-width="1.6"/>
<circle cx="327.30" cy="109.50" r="4.2" fill="#111" stroke="#111" stroke-width="1.6"/>
<circle cx="369.05" cy="117.40" r="4.2" fill="#111" stroke="#111" stroke-width="1.6"/>
<circle cx="393.48" cy="108.80" r="4.2" fill="#111" stroke="#111" stroke-width="1.6"/>
<circle cx="410.81" cy="112.30" r="4.2" fill="#111" stroke="#111" stroke-width="1.6"/>
<line x1="327.30" y1="92.90" x2="327.30" y2="146.50" stroke="#b52826" stroke-width="1.7"/>
<line x1="323.40" y1="92.90" x2="331.20" y2="92.90" stroke="#b52826" stroke-width="1.7"/>
<line x1="323.40" y1="146.50" x2="331.20" y2="146.50" stroke="#b52826" stroke-width="1.7"/>
<line x1="369.05" y1="129.20" x2="369.05" y2="168.20" stroke="#b52826" stroke-width="1.7"/>
<line x1="365.15" y1="129.20" x2="372.95" y2="129.20" stroke="#b52826" stroke-width="1.7"/>
<line x1="365.15" y1="168.20" x2="372.95" y2="168.20" stroke="#b52826" stroke-width="1.7"/>
<line x1="393.48" y1="110.00" x2="393.48" y2="140.80" stroke="#b52826" stroke-width="1.7"/>
<line x1="389.58" y1="110.00" x2="397.38" y2="110.00" stroke="#b52826" stroke-width="1.7"/>
<line x1="389.58" y1="140.80" x2="397.38" y2="140.80" stroke="#b52826" stroke-width="1.7"/>
<line x1="410.81" y1="96.80" x2="410.81" y2="137.50" stroke="#b52826" stroke-width="1.7"/>
<line x1="406.91" y1="96.80" x2="414.71" y2="96.80" stroke="#b52826" stroke-width="1.7"/>
<line x1="406.91" y1="137.50" x2="414.71" y2="137.50" stroke="#b52826" stroke-width="1.7"/>
<line x1="369.05" y1="210.50" x2="369.05" y2="238.90" stroke="#b52826" stroke-width="1.7"/>
<line x1="365.15" y1="210.50" x2="372.95" y2="210.50" stroke="#b52826" stroke-width="1.7"/>
<line x1="365.15" y1="238.90" x2="372.95" y2="238.90" stroke="#b52826" stroke-width="1.7"/>
<line x1="410.81" y1="213.80" x2="410.81" y2="236.80" stroke="#b52826" stroke-width="1.7"/>
<line x1="406.91" y1="213.80" x2="414.71" y2="213.80" stroke="#b52826" stroke-width="1.7"/>
<line x1="406.91" y1="236.80" x2="414.71" y2="236.80" stroke="#b52826" stroke-width="1.7"/>
<line x1="435.23" y1="182.50" x2="435.23" y2="233.20" stroke="#b52826" stroke-width="1.7"/>
<line x1="431.33" y1="182.50" x2="439.13" y2="182.50" stroke="#b52826" stroke-width="1.7"/>
<line x1="431.33" y1="233.20" x2="439.13" y2="233.20" stroke="#b52826" stroke-width="1.7"/>
<line x1="452.56" y1="146.80" x2="452.56" y2="176.40" stroke="#b52826" stroke-width="1.7"/>
<line x1="448.66" y1="146.80" x2="456.46" y2="146.80" stroke="#b52826" stroke-width="1.7"/>
<line x1="448.66" y1="176.40" x2="456.46" y2="176.40" stroke="#b52826" stroke-width="1.7"/>
<polyline points="327.30,165.70 369.05,224.30 393.48,231.20 410.81,225.00 435.23,208.30 452.56,161.80" fill="none" stroke="#b52826" stroke-width="1.8"/>
<polyline points="327.30,129.60 369.05,149.20 393.48,126.20 410.81,117.40" fill="none" stroke="#b52826" stroke-width="1.8"/>
<rect x="323.10" y="161.50" width="8.4" height="8.4" fill="#fff" stroke="#b52826" stroke-width="1.6"/>
<rect x="364.85" y="220.10" width="8.4" height="8.4" fill="#fff" stroke="#b52826" stroke-width="1.6"/>
<rect x="389.28" y="227.00" width="8.4" height="8.4" fill="#fff" stroke="#b52826" stroke-width="1.6"/>
<rect x="406.61" y="220.80" width="8.4" height="8.4" fill="#fff" stroke="#b52826" stroke-width="1.6"/>
<rect x="431.03" y="204.10" width="8.4" height="8.4" fill="#fff" stroke="#b52826" stroke-width="1.6"/>
<rect x="448.36" y="157.60" width="8.4" height="8.4" fill="#fff" stroke="#b52826" stroke-width="1.6"/>
<rect x="323.10" y="125.40" width="8.4" height="8.4" fill="#cc1e18" stroke="#b52826" stroke-width="1.6"/>
<rect x="364.85" y="145.00" width="8.4" height="8.4" fill="#cc1e18" stroke="#b52826" stroke-width="1.6"/>
<rect x="389.28" y="122.00" width="8.4" height="8.4" fill="#cc1e18" stroke="#b52826" stroke-width="1.6"/>
<rect x="406.61" y="113.20" width="8.4" height="8.4" fill="#cc1e18" stroke="#b52826" stroke-width="1.6"/>
<line x1="327.30" y1="146.50" x2="327.30" y2="184.60" stroke="#b52826" stroke-width="1.7"/>
<line x1="323.40" y1="146.50" x2="331.20" y2="146.50" stroke="#b52826" stroke-width="1.7"/>
<line x1="323.40" y1="184.60" x2="331.20" y2="184.60" stroke="#b52826" stroke-width="1.7"/>
<line x1="323.55" y1="167.30" x2="331.05" y2="167.30" stroke="#b52826" stroke-width="1.6"/>
<line x1="498.40" y1="149.20" x2="498.40" y2="178.10" stroke="#111" stroke-width="1.7"/>
<line x1="494.50" y1="149.20" x2="502.30" y2="149.20" stroke="#111" stroke-width="1.7"/>
<line x1="494.50" y1="178.10" x2="502.30" y2="178.10" stroke="#111" stroke-width="1.7"/>
<circle cx="498.40" cy="163.50" r="4.2" fill="#111" stroke="#111" stroke-width="1.6"/>
<line x1="498.40" y1="214.80" x2="498.40" y2="236.70" stroke="#111" stroke-width="1.7"/>
<line x1="494.50" y1="214.80" x2="502.30" y2="214.80" stroke="#111" stroke-width="1.7"/>
<line x1="494.50" y1="236.70" x2="502.30" y2="236.70" stroke="#111" stroke-width="1.7"/>
<circle cx="498.40" cy="226.30" r="4.2" fill="#fff" stroke="#111" stroke-width="1.6"/>
<line x1="498.40" y1="140.80" x2="498.40" y2="189.60" stroke="#b52826" stroke-width="1.7"/>
<line x1="494.50" y1="140.80" x2="502.30" y2="140.80" stroke="#b52826" stroke-width="1.7"/>
<line x1="494.50" y1="189.60" x2="502.30" y2="189.60" stroke="#b52826" stroke-width="1.7"/>
<rect x="494.20" y="161.80" width="8.4" height="8.4" fill="#cc1e18" stroke="#b52826" stroke-width="1.6"/>
<rect x="494.50" y="226.70" width="7.8" height="7.8" fill="#fff" stroke="#b52826" stroke-width="1.6"/>
<line x1="498.40" y1="217.40" x2="498.40" y2="241.90" stroke="#b52826" stroke-width="1.7"/>
<line x1="494.50" y1="217.40" x2="502.30" y2="217.40" stroke="#b52826" stroke-width="1.7"/>
<line x1="494.50" y1="241.90" x2="502.30" y2="241.90" stroke="#b52826" stroke-width="1.7"/>
<line x1="310.40" y1="33.20" x2="328.70" y2="33.20" stroke="#111" stroke-width="1.4"/>
<circle cx="319.20" cy="33.20" r="3.8" fill="#fff" stroke="#111" stroke-width="1.5"/>
<text x="332.60" y="37.40" font-size="12.1" fill="#111" stroke="#111" stroke-width="0.1" font-family="Liberation Sans, sans-serif">WT Quiet (n=7)</text>
<line x1="310.40" y1="45.60" x2="328.70" y2="45.60" stroke="#111" stroke-width="1.4"/>
<circle cx="319.20" cy="45.60" r="3.8" fill="#111" stroke="#111" stroke-width="1.5"/>
<text x="332.60" y="49.80" font-size="12.1" fill="#111" stroke="#111" stroke-width="0.1" font-family="Liberation Sans, sans-serif">WT Noise (n=7)</text>
<line x1="310.40" y1="57.60" x2="328.70" y2="57.60" stroke="#b52826" stroke-width="1.4"/>
<rect x="315.40" y="53.80" width="7.6" height="7.6" fill="#fff" stroke="#b52826" stroke-width="1.5"/>
<text x="332.60" y="61.80" font-size="12.1" fill="#111" stroke="#111" stroke-width="0.1" font-family="Liberation Sans, sans-serif">α9α10KO Quiet (n=9)</text>
<line x1="310.40" y1="69.60" x2="328.70" y2="69.60" stroke="#b52826" stroke-width="1.4"/>
<rect x="315.40" y="65.80" width="7.6" height="7.6" fill="#cc1e18" stroke="#b52826" stroke-width="1.5"/>
<text x="332.60" y="73.80" font-size="12.1" fill="#111" stroke="#111" stroke-width="0.1" font-family="Liberation Sans, sans-serif">α9α10KO Noise (n=9)</text>
<text x="15.60" y="312.10" font-size="12.5" text-anchor="start" fill="#111"  font-family="Liberation Serif, serif" textLength="16.6" lengthAdjust="spacingAndGlyphs">(C)</text>
<line x1="56.40" y1="327.20" x2="56.40" y2="491.30" stroke="#111" stroke-width="1.85"/>
<line x1="52.20" y1="491.30" x2="56.40" y2="491.30" stroke="#111" stroke-width="1.6"/>
<text transform="translate(47.80,496.20) scale(1,1.07)" font-size="13.6" text-anchor="end" fill="#111" stroke="#111" stroke-width="0.22" font-family="Liberation Sans, sans-serif" >0</text>
<line x1="52.20" y1="450.40" x2="56.40" y2="450.40" stroke="#111" stroke-width="1.6"/>
<text transform="translate(47.80,455.30) scale(1,1.07)" font-size="13.6" text-anchor="end" fill="#111" stroke="#111" stroke-width="0.22" font-family="Liberation Sans, sans-serif" >2.5</text>
<line x1="52.20" y1="409.50" x2="56.40" y2="409.50" stroke="#111" stroke-width="1.6"/>
<text transform="translate(47.80,414.40) scale(1,1.07)" font-size="13.6" text-anchor="end" fill="#111" stroke="#111" stroke-width="0.22" font-family="Liberation Sans, sans-serif" >5</text>
<line x1="52.20" y1="368.60" x2="56.40" y2="368.60" stroke="#111" stroke-width="1.6"/>
<text transform="translate(47.80,373.50) scale(1,1.07)" font-size="13.6" text-anchor="end" fill="#111" stroke="#111" stroke-width="0.22" font-family="Liberation Sans, sans-serif" >7.5</text>
<line x1="52.20" y1="327.70" x2="56.40" y2="327.70" stroke="#111" stroke-width="1.6"/>
<text transform="translate(47.80,332.60) scale(1,1.07)" font-size="13.6" text-anchor="end" fill="#111" stroke="#111" stroke-width="0.22" font-family="Liberation Sans, sans-serif" >10</text>
<line x1="62.50" y1="498.80" x2="227.30" y2="498.80" stroke="#111" stroke-width="1.85"/>
<line x1="90.80" y1="498.80" x2="90.80" y2="503.40" stroke="#111" stroke-width="1.6"/>
<text transform="translate(90.80,516.20) scale(1,1.07)" font-size="13.6" text-anchor="middle" fill="#111" stroke="#111" stroke-width="0.22" font-family="Liberation Sans, sans-serif" >70</text>
<line x1="145.00" y1="498.80" x2="145.00" y2="503.40" stroke="#111" stroke-width="1.6"/>
<text transform="translate(145.00,516.20) scale(1,1.07)" font-size="13.6" text-anchor="middle" fill="#111" stroke="#111" stroke-width="0.22" font-family="Liberation Sans, sans-serif" >80</text>
<line x1="199.50" y1="498.80" x2="199.50" y2="503.40" stroke="#111" stroke-width="1.6"/>
<text transform="translate(199.50,516.20) scale(1,1.07)" font-size="13.6" text-anchor="middle" fill="#111" stroke="#111" stroke-width="0.22" font-family="Liberation Sans, sans-serif" >90</text>
<text x="145.20" y="536.20" font-size="16.2" text-anchor="middle" fill="#111" stroke="#111" stroke-width="0.22" font-family="Liberation Sans, sans-serif" >Click Level (dB SPL)</text>
<text transform="translate(12.8,410.15) rotate(-90)" font-size="16.4" text-anchor="middle" fill="#111" stroke="#111" stroke-width="0.22" font-family="Liberation Sans, sans-serif">Wave I Amplitude (uV)</text>
<line x1="90.80" y1="386.00" x2="90.80" y2="436.50" stroke="#111" stroke-width="1.7"/>
<line x1="86.90" y1="386.00" x2="94.70" y2="386.00" stroke="#111" stroke-width="1.7"/>
<line x1="86.90" y1="436.50" x2="94.70" y2="436.50" stroke="#111" stroke-width="1.7"/>
<line x1="145.00" y1="382.50" x2="145.00" y2="433.70" stroke="#111" stroke-width="1.7"/>
<line x1="141.10" y1="382.50" x2="148.90" y2="382.50" stroke="#111" stroke-width="1.7"/>
<line x1="141.10" y1="433.70" x2="148.90" y2="433.70" stroke="#111" stroke-width="1.7"/>
<line x1="199.50" y1="369.00" x2="199.50" y2="434.80" stroke="#111" stroke-width="1.7"/>
<line x1="195.60" y1="369.00" x2="203.40" y2="369.00" stroke="#111" stroke-width="1.7"/>
<line x1="195.60" y1="434.80" x2="203.40" y2="434.80" stroke="#111" stroke-width="1.7"/>
<line x1="90.80" y1="472.70" x2="90.80" y2="482.30" stroke="#111" stroke-width="1.7"/>
<line x1="86.90" y1="472.70" x2="94.70" y2="472.70" stroke="#111" stroke-width="1.7"/>
<line x1="86.90" y1="482.30" x2="94.70" y2="482.30" stroke="#111" stroke-width="1.7"/>
<line x1="145.00" y1="461.90" x2="145.00" y2="470.80" stroke="#111" stroke-width="1.7"/>
<line x1="141.10" y1="461.90" x2="148.90" y2="461.90" stroke="#111" stroke-width="1.7"/>
<line x1="141.10" y1="470.80" x2="148.90" y2="470.80" stroke="#111" stroke-width="1.7"/>
<line x1="199.50" y1="445.40" x2="199.50" y2="456.00" stroke="#111" stroke-width="1.7"/>
<line x1="195.60" y1="445.40" x2="203.40" y2="445.40" stroke="#111" stroke-width="1.7"/>
<line x1="195.60" y1="456.00" x2="203.40" y2="456.00" stroke="#111" stroke-width="1.7"/>
<polyline points="90.80,411.30 145.00,408.10 199.50,395.20" fill="none" stroke="#111" stroke-width="1.8"/>
<polyline points="90.80,472.70 145.00,461.90 199.50,445.40" fill="none" stroke="#111" stroke-width="1.8"/>
<circle cx="90.80" cy="411.30" r="4.2" fill="#fff" stroke="#111" stroke-width="1.6"/>
<circle cx="145.00" cy="408.10" r="4.2" fill="#fff" stroke="#111" stroke-width="1.6"/>
<circle cx="199.50" cy="395.20" r="4.2" fill="#fff" stroke="#111" stroke-width="1.6"/>
<circle cx="90.80" cy="472.70" r="4.2" fill="#111" stroke="#111" stroke-width="1.6"/>
<circle cx="145.00" cy="461.90" r="4.2" fill="#111" stroke="#111" stroke-width="1.6"/>
<circle cx="199.50" cy="445.40" r="4.2" fill="#111" stroke="#111" stroke-width="1.6"/>
<line x1="90.80" y1="346.50" x2="90.80" y2="402.30" stroke="#b52826" stroke-width="1.7"/>
<line x1="86.90" y1="346.50" x2="94.70" y2="346.50" stroke="#b52826" stroke-width="1.7"/>
<line x1="86.90" y1="402.30" x2="94.70" y2="402.30" stroke="#b52826" stroke-width="1.7"/>
<line x1="145.00" y1="336.90" x2="145.00" y2="400.80" stroke="#b52826" stroke-width="1.7"/>
<line x1="141.10" y1="336.90" x2="148.90" y2="336.90" stroke="#b52826" stroke-width="1.7"/>
<line x1="141.10" y1="400.80" x2="148.90" y2="400.80" stroke="#b52826" stroke-width="1.7"/>
<line x1="199.50" y1="325.80" x2="199.50" y2="399.80" stroke="#b52826" stroke-width="1.7"/>
<line x1="195.60" y1="325.80" x2="203.40" y2="325.80" stroke="#b52826" stroke-width="1.7"/>
<line x1="195.60" y1="399.80" x2="203.40" y2="399.80" stroke="#b52826" stroke-width="1.7"/>
<line x1="90.80" y1="446.70" x2="90.80" y2="460.70" stroke="#b52826" stroke-width="1.7"/>
<line x1="86.90" y1="446.70" x2="94.70" y2="446.70" stroke="#b52826" stroke-width="1.7"/>
<line x1="86.90" y1="460.70" x2="94.70" y2="460.70" stroke="#b52826" stroke-width="1.7"/>
<line x1="145.00" y1="429.80" x2="145.00" y2="453.80" stroke="#b52826" stroke-width="1.7"/>
<line x1="141.10" y1="429.80" x2="148.90" y2="429.80" stroke="#b52826" stroke-width="1.7"/>
<line x1="141.10" y1="453.80" x2="148.90" y2="453.80" stroke="#b52826" stroke-width="1.7"/>
<line x1="199.50" y1="408.50" x2="199.50" y2="425.20" stroke="#b52826" stroke-width="1.7"/>
<line x1="195.60" y1="408.50" x2="203.40" y2="408.50" stroke="#b52826" stroke-width="1.7"/>
<line x1="195.60" y1="425.20" x2="203.40" y2="425.20" stroke="#b52826" stroke-width="1.7"/>
<polyline points="90.80,374.40 145.00,368.50 199.50,362.70" fill="none" stroke="#b52826" stroke-width="1.8"/>
<polyline points="90.80,460.70 145.00,445.20 199.50,425.20" fill="none" stroke="#b52826" stroke-width="1.8"/>
<rect x="86.60" y="370.20" width="8.4" height="8.4" fill="#fff" stroke="#b52826" stroke-width="1.6"/>
<rect x="140.80" y="364.30" width="8.4" height="8.4" fill="#fff" stroke="#b52826" stroke-width="1.6"/>
<rect x="195.30" y="358.50" width="8.4" height="8.4" fill="#fff" stroke="#b52826" stroke-width="1.6"/>
<rect x="86.60" y="456.50" width="8.4" height="8.4" fill="#cc1e18" stroke="#b52826" stroke-width="1.6"/>
<rect x="140.80" y="441.00" width="8.4" height="8.4" fill="#cc1e18" stroke="#b52826" stroke-width="1.6"/>
<rect x="195.30" y="421.00" width="8.4" height="8.4" fill="#cc1e18" stroke="#b52826" stroke-width="1.6"/>
<line x1="90.80" y1="464.00" x2="90.80" y2="476.50" stroke="#b52826" stroke-width="1.7"/>
<line x1="145.00" y1="449.00" x2="145.00" y2="462.00" stroke="#b52826" stroke-width="1.7"/>
<line x1="199.50" y1="429.00" x2="199.50" y2="446.00" stroke="#b52826" stroke-width="1.7"/>
<line x1="195.75" y1="402.80" x2="203.25" y2="402.80" stroke="#b52826" stroke-width="1.6"/>
<text x="258.70" y="312.10" font-size="12.5" text-anchor="start" fill="#111"  font-family="Liberation Serif, serif" textLength="16.6" lengthAdjust="spacingAndGlyphs">(D)</text>
<line x1="303.10" y1="327.60" x2="303.10" y2="491.60" stroke="#111" stroke-width="1.85"/>
<line x1="298.90" y1="491.60" x2="303.10" y2="491.60" stroke="#111" stroke-width="1.6"/>
<text transform="translate(294.60,496.50) scale(1,1.07)" font-size="13.6" text-anchor="end" fill="#111" stroke="#111" stroke-width="0.22" font-family="Liberation Sans, sans-serif" >1</text>
<line x1="298.90" y1="458.90" x2="303.10" y2="458.90" stroke="#111" stroke-width="1.6"/>
<text transform="translate(294.60,463.80) scale(1,1.07)" font-size="13.6" text-anchor="end" fill="#111" stroke="#111" stroke-width="0.22" font-family="Liberation Sans, sans-serif" >1.1</text>
<line x1="298.90" y1="426.20" x2="303.10" y2="426.20" stroke="#111" stroke-width="1.6"/>
<text transform="translate(294.60,431.10) scale(1,1.07)" font-size="13.6" text-anchor="end" fill="#111" stroke="#111" stroke-width="0.22" font-family="Liberation Sans, sans-serif" >1.2</text>
<line x1="298.90" y1="393.50" x2="303.10" y2="393.50" stroke="#111" stroke-width="1.6"/>
<text transform="translate(294.60,398.40) scale(1,1.07)" font-size="13.6" text-anchor="end" fill="#111" stroke="#111" stroke-width="0.22" font-family="Liberation Sans, sans-serif" >1.3</text>
<line x1="298.90" y1="360.80" x2="303.10" y2="360.80" stroke="#111" stroke-width="1.6"/>
<text transform="translate(294.60,365.70) scale(1,1.07)" font-size="13.6" text-anchor="end" fill="#111" stroke="#111" stroke-width="0.22" font-family="Liberation Sans, sans-serif" >1.4</text>
<line x1="298.90" y1="328.10" x2="303.10" y2="328.10" stroke="#111" stroke-width="1.6"/>
<text transform="translate(294.60,333.00) scale(1,1.07)" font-size="13.6" text-anchor="end" fill="#111" stroke="#111" stroke-width="0.22" font-family="Liberation Sans, sans-serif" >1.5</text>
<line x1="308.70" y1="499.00" x2="474.30" y2="499.00" stroke="#111" stroke-width="1.85"/>
<line x1="336.80" y1="499.00" x2="336.80" y2="503.50" stroke="#111" stroke-width="1.6"/>
<text transform="translate(336.80,516.20) scale(1,1.07)" font-size="13.6" text-anchor="middle" fill="#111" stroke="#111" stroke-width="0.22" font-family="Liberation Sans, sans-serif" >70</text>
<line x1="391.50" y1="499.00" x2="391.50" y2="503.50" stroke="#111" stroke-width="1.6"/>
<text transform="translate(391.50,516.20) scale(1,1.07)" font-size="13.6" text-anchor="middle" fill="#111" stroke="#111" stroke-width="0.22" font-family="Liberation Sans, sans-serif" >80</text>
<line x1="446.00" y1="499.00" x2="446.00" y2="503.50" stroke="#111" stroke-width="1.6"/>
<text transform="translate(446.00,516.20) scale(1,1.07)" font-size="13.6" text-anchor="middle" fill="#111" stroke="#111" stroke-width="0.22" font-family="Liberation Sans, sans-serif" >90</text>
<text x="390.00" y="536.40" font-size="16" text-anchor="middle" fill="#111" stroke="#111" stroke-width="0.22" font-family="Liberation Sans, sans-serif" >Click Level (dB SPL)</text>
<text transform="translate(262.9,409.85) rotate(-90)" font-size="16.3" text-anchor="middle" fill="#111" stroke="#111" stroke-width="0.22" font-family="Liberation Sans, sans-serif">Wave I Latency (ms)</text>
<line x1="336.80" y1="366.20" x2="336.80" y2="416.20" stroke="#111" stroke-width="1.7"/>
<line x1="332.90" y1="366.20" x2="340.70" y2="366.20" stroke="#111" stroke-width="1.7"/>
<line x1="332.90" y1="416.20" x2="340.70" y2="416.20" stroke="#111" stroke-width="1.7"/>
<line x1="391.50" y1="389.20" x2="391.50" y2="437.70" stroke="#111" stroke-width="1.7"/>
<line x1="387.60" y1="389.20" x2="395.40" y2="389.20" stroke="#111" stroke-width="1.7"/>
<line x1="387.60" y1="437.70" x2="395.40" y2="437.70" stroke="#111" stroke-width="1.7"/>
<line x1="446.00" y1="405.60" x2="446.00" y2="444.00" stroke="#111" stroke-width="1.7"/>
<line x1="442.10" y1="405.60" x2="449.90" y2="405.60" stroke="#111" stroke-width="1.7"/>
<line x1="442.10" y1="444.00" x2="449.90" y2="444.00" stroke="#111" stroke-width="1.7"/>
<polyline points="336.80,378.50 391.50,401.00 446.00,417.10" fill="none" stroke="#111" stroke-width="1.8"/>
<polyline points="336.80,403.80 391.50,425.80 446.00,430.50" fill="none" stroke="#111" stroke-width="1.8"/>
<circle cx="336.80" cy="378.50" r="4.2" fill="#fff" stroke="#111" stroke-width="1.6"/>
<circle cx="391.50" cy="401.00" r="4.2" fill="#fff" stroke="#111" stroke-width="1.6"/>
<circle cx="446.00" cy="417.10" r="4.2" fill="#fff" stroke="#111" stroke-width="1.6"/>
<circle cx="336.80" cy="403.80" r="4.2" fill="#111" stroke="#111" stroke-width="1.6"/>
<circle cx="391.50" cy="425.80" r="4.2" fill="#111" stroke="#111" stroke-width="1.6"/>
<circle cx="446.00" cy="430.50" r="4.2" fill="#111" stroke="#111" stroke-width="1.6"/>
<polyline points="336.80,381.50 391.50,406.30 446.00,422.50" fill="none" stroke="#b52826" stroke-width="1.8"/>
<polyline points="336.80,390.00 391.50,415.50 446.00,428.70" fill="none" stroke="#b52826" stroke-width="1.8"/>
<rect x="332.60" y="377.30" width="8.4" height="8.4" fill="#fff" stroke="#b52826" stroke-width="1.6"/>
<rect x="387.30" y="402.10" width="8.4" height="8.4" fill="#fff" stroke="#b52826" stroke-width="1.6"/>
<rect x="441.80" y="418.30" width="8.4" height="8.4" fill="#fff" stroke="#b52826" stroke-width="1.6"/>
<rect x="332.60" y="385.80" width="8.4" height="8.4" fill="#cc1e18" stroke="#b52826" stroke-width="1.6"/>
<rect x="387.30" y="411.30" width="8.4" height="8.4" fill="#cc1e18" stroke="#b52826" stroke-width="1.6"/>
<rect x="441.80" y="424.50" width="8.4" height="8.4" fill="#cc1e18" stroke="#b52826" stroke-width="1.6"/>
<line x1="336.80" y1="370.00" x2="336.80" y2="405.00" stroke="#b52826" stroke-width="1.7"/>
<line x1="332.90" y1="370.00" x2="340.70" y2="370.00" stroke="#b52826" stroke-width="1.7"/>
<line x1="332.90" y1="405.00" x2="340.70" y2="405.00" stroke="#b52826" stroke-width="1.7"/>
<line x1="333.05" y1="373.80" x2="340.55" y2="373.80" stroke="#b52826" stroke-width="1.6"/>
<line x1="391.50" y1="389.50" x2="391.50" y2="432.00" stroke="#b52826" stroke-width="1.7"/>
<line x1="387.60" y1="389.50" x2="395.40" y2="389.50" stroke="#b52826" stroke-width="1.7"/>
<line x1="387.60" y1="432.00" x2="395.40" y2="432.00" stroke="#b52826" stroke-width="1.7"/>
<line x1="387.75" y1="393.30" x2="395.25" y2="393.30" stroke="#b52826" stroke-width="1.6"/>
<line x1="446.00" y1="408.50" x2="446.00" y2="439.20" stroke="#b52826" stroke-width="1.7"/>
<line x1="442.10" y1="408.50" x2="449.90" y2="408.50" stroke="#b52826" stroke-width="1.7"/>
<line x1="442.10" y1="439.20" x2="449.90" y2="439.20" stroke="#b52826" stroke-width="1.7"/>
<line x1="311.20" y1="451.50" x2="329.50" y2="451.50" stroke="#111" stroke-width="1.4"/>
<circle cx="320.00" cy="451.50" r="3.8" fill="#fff" stroke="#111" stroke-width="1.5"/>
<text x="333.00" y="455.70" font-size="12.1" fill="#111" stroke="#111" stroke-width="0.1" font-family="Liberation Sans, sans-serif">WT Quiet (n=7)</text>
<line x1="311.20" y1="463.50" x2="329.50" y2="463.50" stroke="#111" stroke-width="1.4"/>
<circle cx="320.00" cy="463.50" r="3.8" fill="#111" stroke="#111" stroke-width="1.5"/>
<text x="333.00" y="467.70" font-size="12.1" fill="#111" stroke="#111" stroke-width="0.1" font-family="Liberation Sans, sans-serif">WT Noise (n=7)</text>
<line x1="311.20" y1="475.50" x2="329.50" y2="475.50" stroke="#b52826" stroke-width="1.4"/>
<rect x="316.20" y="471.70" width="7.6" height="7.6" fill="#fff" stroke="#b52826" stroke-width="1.5"/>
<text x="333.00" y="479.70" font-size="12.1" fill="#111" stroke="#111" stroke-width="0.1" font-family="Liberation Sans, sans-serif">α9α10KO Quiet (n=9)</text>
<line x1="311.20" y1="487.50" x2="329.50" y2="487.50" stroke="#b52826" stroke-width="1.4"/>
<rect x="316.20" y="483.70" width="7.6" height="7.6" fill="#cc1e18" stroke="#b52826" stroke-width="1.5"/>
<text x="333.00" y="491.70" font-size="12.1" fill="#111" stroke="#111" stroke-width="0.1" font-family="Liberation Sans, sans-serif">α9α10KO Noise (n=9)</text>
</svg></body></html>
